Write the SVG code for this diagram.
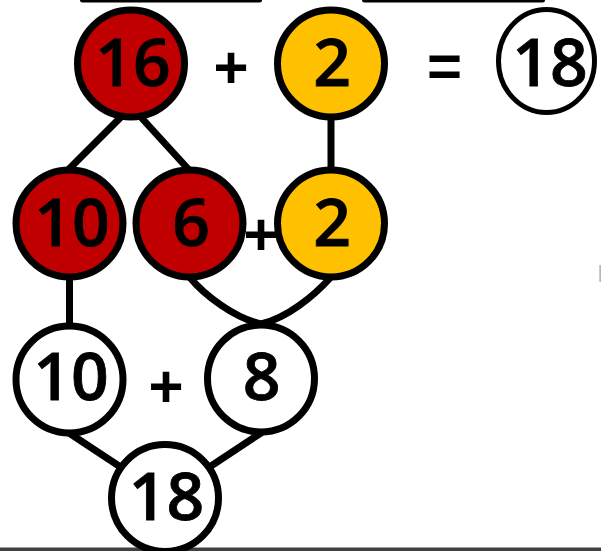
<svg xmlns="http://www.w3.org/2000/svg" width="601" height="551" viewBox="0 0 601 551">
<style>
.n{stroke:#000;stroke-width:7}
.r{fill:#C00000}
.y{fill:#FFC000}
.w{fill:#fff}
.t{font-family:"Open Sans","Liberation Sans",Arial,sans-serif;font-weight:600;font-size:66px;text-anchor:middle;fill:#000;stroke:#000;stroke-width:0.8}
.op{font-family:"Liberation Sans",Arial,sans-serif;font-weight:700;font-size:60px;text-anchor:middle;fill:#000}
.c{stroke:#000;stroke-width:7;fill:none}
</style>
<rect width="601" height="551" fill="#fff"/>
<rect x="80" y="-4" width="182" height="6.5" rx="2.5" fill="#000"/>
<rect x="362" y="-4" width="183" height="6.5" rx="2.5" fill="#000"/>
<rect x="0" y="547.5" width="601" height="4" fill="#404040"/>
<rect x="599.5" y="265" width="1.2" height="17" fill="#999"/>
<g id="connectors">
<line class="c" x1="124" y1="114" x2="67" y2="171"/>
<line class="c" x1="138" y1="114" x2="190" y2="171"/>
<line class="c" x1="331" y1="115" x2="331" y2="172"/>
<line class="c" x1="69.5" y1="275" x2="69.5" y2="327"/>
<path class="c" d="M189.5,277 C205,296 235,318 261,324"/>
<path class="c" d="M331,277 C314,296 287,318 261,324"/>
<line class="c" x1="66" y1="431" x2="122" y2="468"/>
<line class="c" x1="264" y1="431" x2="208" y2="468"/>
</g>
<g id="n16"><circle class="n r" cx="131" cy="63.5" r="53.5"/><text class="t" x="133" y="86">16</text></g>
<g id="plus1"><text class="op" x="231" y="88">+</text></g>
<g id="n2top"><circle class="n y" cx="331" cy="63.5" r="53.5"/><text class="t" x="332" y="86">2</text></g>
<g id="eq"><text class="op" x="444.5" y="86">=</text></g>
<g id="n18top"><ellipse cx="546.5" cy="61" rx="48" ry="51.5" fill="#fff" stroke="#000" stroke-width="5"/><text class="t" x="550" y="86">18</text></g>
<g id="n10r"><circle class="n r" cx="69.5" cy="223.5" r="53.5"/><text class="t" x="72" y="246">10</text></g>
<g id="plus2"><text class="op" x="261" y="255">+</text></g>
<g id="n6"><circle class="n r" cx="189.5" cy="223.5" r="53.5"/><text class="t" x="191" y="246">6</text></g>
<g id="n2mid"><circle class="n y" cx="331" cy="223.5" r="53.5"/><text class="t" x="332" y="246">2</text></g>
<g id="n10w"><circle class="n w" cx="69.5" cy="379.5" r="53.5"/><text class="t" x="71" y="400">10</text></g>
<g id="plus3"><text class="op" x="166" y="407">+</text></g>
<g id="n8"><circle class="n w" cx="261" cy="378.5" r="53.5"/><text class="t" x="261.5" y="400">8</text></g>
<g id="n18bot"><circle class="n w" cx="165" cy="498" r="53.5"/><text class="t" x="166.5" y="520">18</text></g>
</svg>
